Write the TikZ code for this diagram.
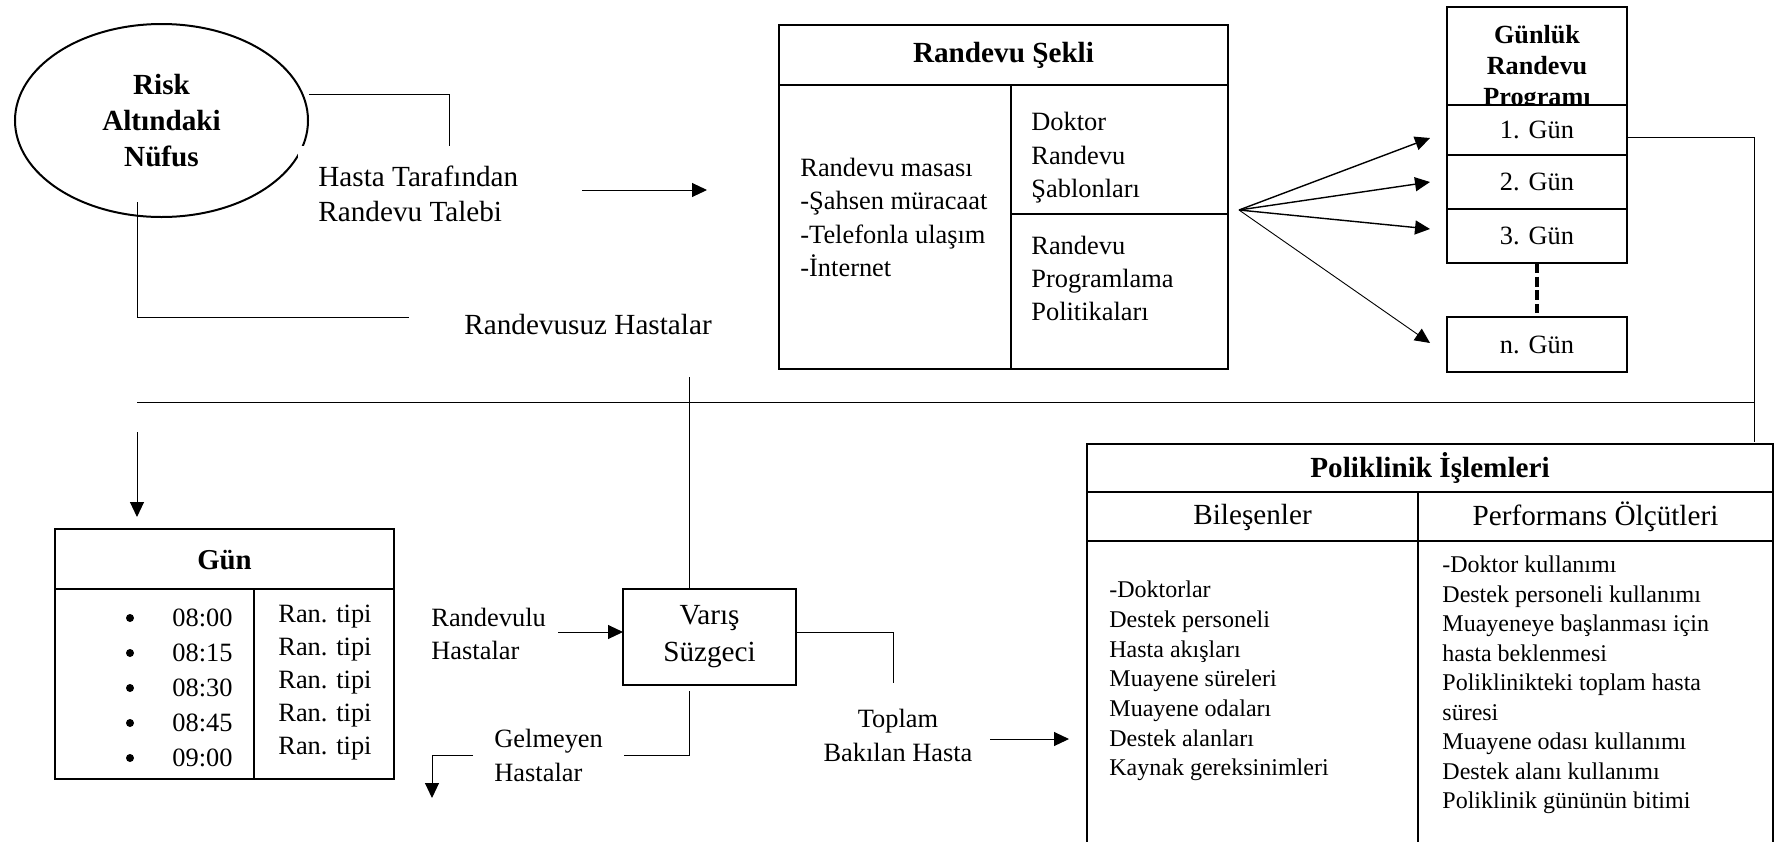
\documentclass[tikz,border=0pt]{standalone}
\usepackage{fontspec}
\setmainfont{Liberation Serif}
\usetikzlibrary{arrows.meta,positioning,shapes.geometric}
\newcommand{\setfs}[2]{\fontsize{#1}{#2}\selectfont}

\begin{document}
\begin{tikzpicture}[x=0.5pt, y=-0.5pt,
  box/.style = {draw, line width=1pt, rectangle, inner sep=0pt, outer sep=0pt},
  txt/.style = {inner sep=0pt, align=left, anchor=west},
  ln/.style = {line width=0.5pt},
  arr/.style = {line width=0.5pt, -{Triangle[length=7.5pt, width=7pt]}}]
\useasboundingbox (0,0) rectangle (1780,841);

% nufus ve randevu talebi
\node[draw, ellipse, line width=1pt, minimum width=146.5pt, minimum height=96.5pt, inner sep=0pt, align=center, font={\setfs{14.6}{18.2}\bfseries}] (nufus) at (161.5,120.5) {Risk\\Altındaki\\Nüfus};
\node[fill=white, anchor=north west, inner xsep=10pt, inner ysep=10pt, align=left, font={\setfs{14.6}{17.5}}] (talep) at (298,146) {Hasta Tarafından\\Randevu Talebi};
\coordinate (k1) at (449,94);
\draw[ln] (nufus.east |- k1) -- (k1) -- (k1 |- talep.north);
\coordinate (a1) at (582,190);
\coordinate (a2) at (707,190);
\draw[arr] (a1) -- (a2);

\coordinate (k2) at (137,202);
\coordinate (k3) at (409,317);
\draw[ln] (k2) -- (k2 |- k3) -- (k3);
\node[txt, font={\setfs{14.6}{17.5}}] (randevusuz) at (464,325) {Randevusuz Hastalar};

% randevu sekli
\node[box, minimum width=224.5pt, minimum height=172pt] (sekli) at (1003.5,197) {};
\draw[line width=1pt] (779,85) -- (1228,85) (1011,85) -- (1011,369);
\draw[line width=0.6pt] (1011,214) -- (1228,214);
\node[font={\setfs{14.6}{17.5}\bfseries}] (sekliT) at (1003.5,55) {Randevu Şekli};
\node[txt, font={\setfs{13.2}{16.6}}] (masa) at (800,217.5) {Randevu masası\\-Şahsen müracaat\\-Telefonla ulaşım\\-İnternet};
\node[txt, font={\setfs{13.2}{16.7}}] (sablon) at (1031,158) {Doktor\\Randevu\\Şablonları};
\node[txt, font={\setfs{13.2}{16.7}}] (politika) at (1031,278.5) {Randevu\\Programlama\\Politikaları};

% gunluk randevu programi
\node[box, minimum width=90pt, minimum height=49.5pt] (gunluk) at (1537,56.5) {};
\node[align=center, inner sep=0pt, font={\setfs{13.1}{15.5}\bfseries}] (gunlukT) at (1537,68) {Günlük\\Randevu\\Programı};
\node[box, fill=white, minimum width=90pt, minimum height=25pt, font={\setfs{13.2}{16}}] (g1) at (1537,130) {1. Gün};
\node[box, fill=white, minimum width=90pt, minimum height=27pt, font={\setfs{13.2}{16}}, below=0pt of g1] (g2) {2. Gün};
\node[box, fill=white, minimum width=90pt, minimum height=27pt, font={\setfs{13.2}{16}}, below=0pt of g2] (g3) {3. Gün};
\node[box, minimum width=90pt, minimum height=27.5pt, font={\setfs{13.2}{16}}] (gn) at (1537,344.5) {n. Gün};
\draw[line width=1.6pt, dash pattern=on 5pt off 1.8pt, shorten >=2pt] (g3.south) -- (gn.north);

\coordinate (fan) at (1239,210);
\draw[arr, line width=0.7pt] (fan) -- ([shift={(-17,8)}]g1.west);
\draw[arr, line width=0.7pt] (fan) -- ([shift={(-17,0)}]g2.west);
\draw[arr, line width=0.7pt] (fan) -- ([shift={(-17,-7)}]g3.west);
\draw[arr, line width=0.45pt] (fan) -- ([shift={(-17,-1.5)}]gn.west);

\coordinate (p1) at (1754,137);
\coordinate (p2) at (1754,442);
\draw[ln] (g1.east |- p1) -- (p1) -- (p2);
\coordinate (p3) at (137,402);
\draw[ln] (p3) -- (p1 |- p3);

% gun
\node[box, minimum width=169.5pt, minimum height=125pt] (gun) at (224.5,654) {};
\draw[line width=1pt] (55,589) -- (394,589) (254,589) -- (254,779);
\node[font={\setfs{14.4}{17}\bfseries}] (gunT) at (224.5,560) {Gün};
\coordinate (p4) at (137,432);
\draw[arr] (p4) -- (p4 |- gun.north) [shorten >=6pt];
\foreach \t [count=\i] in {08:00,08:15,08:30,08:45,09:00} {
  \node[circle, fill, inner sep=0pt, minimum size=4pt] (b\i) at (130,583+35*\i) {};
  \node[txt, font={\setfs{13.2}{16}}] (s\i) at (172,583+35*\i) {\t};
  \node[txt, font={\setfs{13.2}{16}}] (r\i) at (278,584+33*\i) {Ran. tipi};
}

% varis suzgeci
\node[box, minimum width=86.5pt, minimum height=48pt, align=center, font={\setfs{14.6}{18.5}}] (varis) at (709.5,637) {Varış\\Süzgeci};
\node[txt, font={\setfs{13.2}{16.5}}] (randevulu) at (431,633.5) {Randevulu\\Hastalar};
\coordinate (a3) at (558,632);
\draw[arr] (a3) -- (varis.west |- a3);
\coordinate (p5) at (689,377);
\draw[ln] (p5) -- (p5 |- varis.north);
\coordinate (p6) at (893,632);
\coordinate (p7) at (893,683);
\draw[ln] (varis.east |- p6) -- (p6) -- (p7);
\coordinate (p8) at (689,691);
\coordinate (p9) at (624,755);
\draw[ln] (p8) -- (p8 |- p9) -- (p9);
\node[txt, font={\setfs{13.2}{17}}] (gelmeyen) at (494,755) {Gelmeyen\\Hastalar};
\coordinate (p10) at (473,755);
\coordinate (p11) at (432,798);
\draw[arr] (p10) -- (p11 |- p10) -- (p11);
\node[align=center, inner sep=0pt, font={\setfs{13.2}{17}}] (toplam) at (898,735) {Toplam\\Bakılan Hasta};
\coordinate (a4) at (990,739);
\coordinate (a5) at (1069,739);
\draw[arr] (a4) -- (a5);

% poliklinik islemleri
\draw[line width=1pt] (1087,850) -- (1087,444) -- (1773,444) -- (1773,850);
\draw[line width=1pt] (1087,492) -- (1773,492) (1087,541) -- (1773,541) (1418,492) -- (1418,850);
\node[font={\setfs{14.6}{17.5}\bfseries}] (poliT) at (1430,468) {Poliklinik İşlemleri};
\node[font={\setfs{14.6}{17.5}}] (bilesenT) at (1252.5,517) {Bileşenler};
\node[font={\setfs{14.6}{17.5}}] (olcutT) at (1595.5,517) {Performans Ölçütleri};
\node[txt, font={\setfs{12}{14.85}}] (bilesen) at (1109,681) {-Doktorlar\\Destek personeli\\Hasta akışları\\Muayene süreleri\\Muayene odaları\\Destek alanları\\Kaynak gereksinimleri};
\node[txt, font={\setfs{12}{14.75}}] (olcut) at (1442,685) {-Doktor kullanımı\\Destek personeli kullanımı\\Muayeneye başlanması için\\hasta beklenmesi\\Poliklinikteki toplam hasta\\süresi\\Muayene odası kullanımı\\Destek alanı kullanımı\\Poliklinik gününün bitimi};
\end{tikzpicture}
\end{document}
